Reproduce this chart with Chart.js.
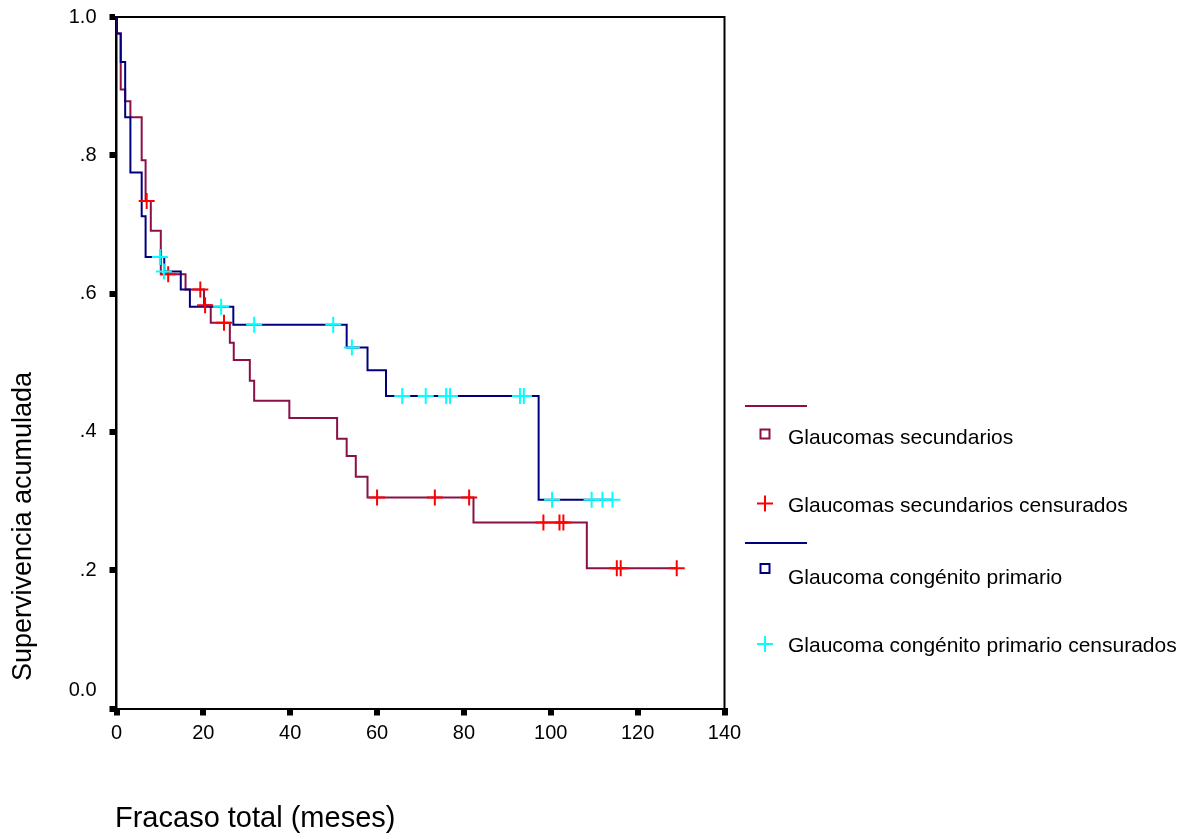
<!DOCTYPE html>
<html>
<head>
<meta charset="utf-8">
<script src="https://cdn.jsdelivr.net/npm/chart.js@4.4.1/dist/chart.umd.min.js"></script>
<style>
  html, body { margin: 0; padding: 0; background: #ffffff; }
  #wrap { width: 1195px; height: 839px; }
</style>
</head>
<body>
<div id="wrap"><canvas id="km" width="1195" height="839"></canvas></div>
<script>
// Kaplan-Meier steps: time of each drop (months) and survival after it
const secTimes = [0, 0.1, 0.97, 2.0, 3.2, 5.8, 6.7, 7.9, 10.2, 15.9, 20.15, 21.7, 26.1, 27.0, 30.7, 31.7, 39.8, 50.8, 53.0, 55.1, 57.8, 82.2, 108.3];
const secSurv  = [1.0, 0.976, 0.895, 0.878, 0.855, 0.793, 0.734, 0.691, 0.628, 0.606, 0.583, 0.558, 0.529, 0.504, 0.474, 0.445, 0.420, 0.390, 0.365, 0.335, 0.305, 0.269, 0.203];

// censored cases, secondary glaucoma
const secCensTimes = [6.95, 11.9, 19.3, 20.4, 24.75, 60.0, 73.3, 81.2, 98.3, 102.0, 102.9, 115.2, 116.1, 129.0];
const secCensSurv  = [0.734, 0.628, 0.606, 0.583, 0.558, 0.305, 0.305, 0.305, 0.269, 0.269, 0.269, 0.203, 0.203, 0.203];

const primTimes = [0, 0.1, 0.97, 2.0, 3.2, 5.8, 6.7, 11.0, 14.8, 16.9, 26.9, 53.0, 57.8, 62.05, 97.2];
const primSurv  = [1.0, 0.976, 0.935, 0.855, 0.775, 0.712, 0.653, 0.632, 0.606, 0.581, 0.555, 0.522, 0.489, 0.452, 0.302];

// censored cases, primary congenital glaucoma
const primCensTimes = [10.0, 10.9, 24.1, 31.7, 49.9, 54.2, 65.8, 71.2, 75.9, 76.8, 92.9, 93.8, 100.3, 109.4, 111.9, 114.2];
const primCensSurv  = [0.653, 0.632, 0.581, 0.555, 0.555, 0.522, 0.452, 0.452, 0.452, 0.452, 0.452, 0.452, 0.302, 0.302, 0.302, 0.302];

const yTickLabels = ['0.0', '.2', '.4', '.6', '.8', '1.0'];
const xTitle = 'Fracaso total (meses)';
const yTitle = 'Supervivencia acumulada';
const legendLabels = [
  'Glaucomas secundarios',
  'Glaucomas secundarios censurados',
  'Glaucoma congénito primario',
  'Glaucoma congénito primario censurados'
];

const MAROON = '#8a1047';
const NAVY = '#00007f';
const RED = '#ff0000';
const CYAN = '#00ffff';
const FONT = '"Liberation Sans", Arial, Helvetica, sans-serif';

function stepPoints(times, surv, censTimes) {
  const pts = times.map((t, i) => ({ x: t, y: surv[i] }));
  const lastCens = Math.max(...censTimes);
  const lastT = times[times.length - 1];
  if (lastCens > lastT) pts.push({ x: lastCens, y: surv[surv.length - 1] });
  return pts;
}
function pairPoints(times, surv) {
  return times.map((t, i) => ({ x: t, y: surv[i] }));
}

// frame, axis titles, the shifted 0.0 label and the legend block
const decor = {
  id: 'decor',
  afterDraw(chart) {
    const ctx = chart.ctx;
    const a = chart.chartArea;
    const ys = chart.scales.y;
    ctx.save();
    ctx.strokeStyle = '#000';
    ctx.lineWidth = 2;
    ctx.beginPath();
    ctx.moveTo(a.left, a.top);
    ctx.lineTo(a.right, a.top);
    ctx.lineTo(a.right, a.bottom);
    ctx.stroke();

    ctx.fillStyle = '#000';
    ctx.font = '20px ' + FONT;
    ctx.textAlign = 'right';
    ctx.textBaseline = 'middle';
    ctx.fillText(yTickLabels[0], a.left - 20, ys.getPixelForValue(0) - 18);

    ctx.font = '29px ' + FONT;
    ctx.textAlign = 'left';
    ctx.textBaseline = 'alphabetic';
    ctx.fillText(xTitle, a.left - 1.5, 827);

    ctx.save();
    ctx.translate(31, 526.5);
    ctx.rotate(-Math.PI / 2);
    ctx.font = '27px ' + FONT;
    ctx.textAlign = 'center';
    ctx.textBaseline = 'alphabetic';
    ctx.fillText(yTitle, 0, 0);
    ctx.restore();

    // legend
    const lx0 = 745, lx1 = 807, mx = 765, tx = 788;
    ctx.font = '21px ' + FONT;
    ctx.textAlign = 'left';
    ctx.textBaseline = 'alphabetic';
    const groups = [
      { line: MAROON, cross: RED, lineY: 406, boxY: 434, boxBase: 443.5, crossY: 503.5, crossBase: 511.5, labels: [legendLabels[0], legendLabels[1]] },
      { line: NAVY, cross: CYAN, lineY: 543, boxY: 568.5, boxBase: 583.5, crossY: 644, crossBase: 651.5, labels: [legendLabels[2], legendLabels[3]] }
    ];
    groups.forEach(g => {
      ctx.strokeStyle = g.line;
      ctx.lineWidth = 2;
      ctx.beginPath();
      ctx.moveTo(lx0, g.lineY);
      ctx.lineTo(lx1, g.lineY);
      ctx.stroke();
      ctx.strokeRect(mx - 4.5, g.boxY - 4.5, 9, 9);
      ctx.strokeStyle = g.cross;
      ctx.beginPath();
      ctx.moveTo(mx - 8, g.crossY);
      ctx.lineTo(mx + 8, g.crossY);
      ctx.moveTo(mx, g.crossY - 8);
      ctx.lineTo(mx, g.crossY + 8);
      ctx.stroke();
      ctx.fillStyle = '#000';
      ctx.fillText(g.labels[0], tx, g.boxBase);
      ctx.fillText(g.labels[1], tx, g.crossBase);
    });
    ctx.restore();
  }
};

new Chart(document.getElementById('km'), {
  type: 'line',
  data: {
    datasets: [
      { label: legendLabels[3], data: pairPoints(primCensTimes, primCensSurv), showLine: false,
        pointStyle: 'cross', pointRadius: 8, pointBorderWidth: 2, pointBorderColor: CYAN, borderColor: CYAN, order: 0 },
      { label: legendLabels[1], data: pairPoints(secCensTimes, secCensSurv), showLine: false,
        pointStyle: 'cross', pointRadius: 8, pointBorderWidth: 2, pointBorderColor: RED, borderColor: RED, order: 1 },
      { label: legendLabels[2], data: stepPoints(primTimes, primSurv, primCensTimes), stepped: 'before',
        borderColor: NAVY, borderWidth: 2, pointRadius: 0, fill: false, order: 2 },
      { label: legendLabels[0], data: stepPoints(secTimes, secSurv, secCensTimes), stepped: 'before',
        borderColor: MAROON, borderWidth: 2, pointRadius: 0, fill: false, order: 3 }
    ]
  },
  options: {
    responsive: false,
    animation: false,
    events: [],
    layout: { padding: { top: 17, right: 470.5, left: 0, bottom: 0 } },
    plugins: { legend: { display: false }, tooltip: { enabled: false } },
    scales: {
      x: {
        type: 'linear', min: 0, max: 140,
        ticks: { stepSize: 20, color: '#000', font: { family: FONT, size: 20 }, padding: 6, maxRotation: 0 },
        grid: { drawOnChartArea: false, drawTicks: true, tickLength: 7, lineWidth: 6, color: '#000' },
        border: { display: true, color: '#000', width: 2 },
        afterFit(s) { s.height = 839 - 708.5; s.paddingLeft = 0; s.paddingRight = 0; }
      },
      y: {
        type: 'linear', min: 0, max: 1,
        ticks: { stepSize: 0.2, color: '#000', font: { family: FONT, size: 20 }, padding: 13,
          callback: v => { const i = Math.round(v / 0.2); return i === 0 ? '' : yTickLabels[i]; } },
        grid: { drawOnChartArea: false, drawTicks: true, tickLength: 7, lineWidth: 6, color: '#000' },
        border: { display: true, color: '#000', width: 2.5 },
        afterFit(s) { s.width = 116.5; s.paddingTop = 0; s.paddingBottom = 0; }
      }
    }
  },
  plugins: [decor]
});
</script>
</body>
</html>
